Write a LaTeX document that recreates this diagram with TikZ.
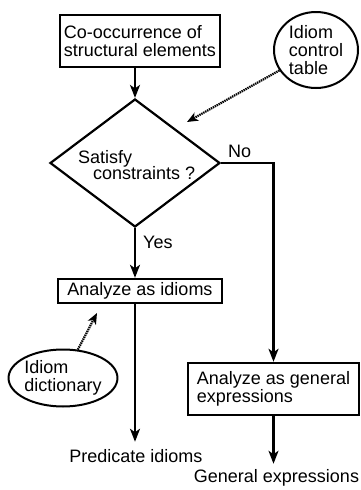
\documentclass[tikz,border=0pt]{standalone}
\usepackage{fontspec}
\setmainfont{Liberation Sans}
\usetikzlibrary{arrows.meta,shapes.geometric}
\tikzset{
  lbl/.style={font=\fontsize{18}{18}\selectfont, inner sep=0pt, align=left},
  stepbox/.style={lbl, draw, line width=2.4pt},
  roundbox/.style={lbl, draw, line width=2pt, ellipse},
  flow/.style={line width=2.2pt, -{Stealth[length=13pt,width=10pt,inset=3.5pt]}},
  dotflow/.style={line width=2.2pt, dash pattern=on 1.4pt off 0.8pt,
    -{Stealth[length=11pt,width=9pt,inset=3pt]}},
}
\begin{document}
\begin{tikzpicture}[x=1pt, y=-1pt]
\useasboundingbox (0,0) rectangle (360,490);

% process boxes
\node[stepbox, minimum width=160pt, minimum height=52pt] (cooc) at (140,41)
  {Co-occurrence of\\structural elements};
\node[stepbox, minimum width=164pt, minimum height=24pt] (idm) at (140,291)
  {Analyze as idioms};
\node[stepbox, minimum width=171pt, minimum height=52pt] (gen) at (273.5,389)
  {Analyze as general\\expressions};

% decision
\node[draw, line width=2.2pt, diamond, inner sep=0pt, aspect=1.33,
      minimum width=170pt, minimum height=128pt] (sat) at (135,163) {};
\node[lbl, anchor=base west] (satA) at (78,163) {Satisfy};
\node[lbl, anchor=base west] (satB) at (93,179) {constraints ?};
\node[lbl, anchor=base west] (no) at (228,157) {No};
\node[lbl, anchor=base west] (yes) at (143,248) {Yes};

% data stores
\node[roundbox, minimum width=84pt, minimum height=76pt] (ctl) at (316,50)
  {Idiom\\control\\table};
\node[roundbox, minimum width=106pt, minimum height=57pt] (dict) at (63,378)
  {Idiom\\dictionary};

% outputs
\node[lbl, anchor=base] (pred) at (136,462) {Predicate idioms};
\node[lbl, anchor=base] (genx) at (276.5,482) {General expressions};

% control flow
\draw[flow] (cooc.south -| sat.north) -- (sat.north);
\draw[flow] (sat.south) -- (idm.north -| sat.south);
\draw[flow] (idm.south -| sat.south) -- ([yshift=7pt]pred.north -| sat.south);
\draw[flow] (sat.east) -| (gen.north);
\draw[flow] (gen.south) -- ([yshift=5pt]gen.south |- genx.north);

% table lookups
\coordinate (ctlTip) at (187,122);
\coordinate (dictTip) at (97,313);
\draw[dotflow] (ctl) -- (ctlTip);
\draw[dotflow] (dict) -- (dictTip);
\end{tikzpicture}
\end{document}
